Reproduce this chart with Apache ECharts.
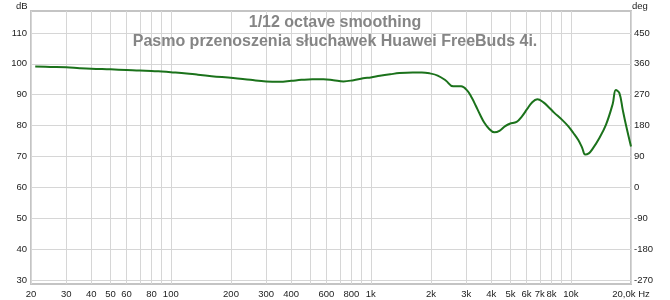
<!DOCTYPE html>
<html>
<head>
<meta charset="utf-8">
<style>
html,body{margin:0;padding:0;background:#fff;}
#chart{width:670px;height:300px;}
</style>
<script src="https://cdn.jsdelivr.net/npm/echarts@6/dist/echarts.min.js"></script>
</head>
<body>
<div id="chart"></div>
<script>
var titleLines = ['1/12 octave smoothing', 'Pasmo przenoszenia słuchawek Huawei FreeBuds 4i.'];

var freqs = [21, 25, 30, 35, 40, 50, 60, 70, 80, 90, 100, 120, 135, 160, 205, 250, 300, 350, 400, 450, 510, 580, 650, 730, 820, 915, 1000, 1110, 1250, 1390, 1620, 1800, 1970, 2160, 2370, 2580, 2830, 3030, 3200, 3350, 3520, 3690, 3900, 4150, 4400, 4700, 4950, 5360, 5700, 6040, 6400, 6800, 7300, 7800, 8250, 9000, 9700, 10300, 10900, 11400, 11800, 12300, 12800, 13900, 15000, 16200, 16800, 17500, 18200, 18900, 20000];
var spl = [99.1, 99.0, 98.9, 98.6, 98.4, 98.2, 98.0, 97.8, 97.7, 97.5, 97.3, 96.9, 96.5, 96.0, 95.4, 94.8, 94.3, 94.2, 94.5, 94.8, 95.0, 95.0, 94.7, 94.3, 94.7, 95.3, 95.6, 96.1, 96.6, 97.0, 97.2, 97.2, 96.9, 96.2, 94.6, 92.7, 92.7, 91.4, 89.0, 86.4, 83.5, 81.0, 79.0, 77.8, 78.3, 79.8, 80.6, 81.2, 83.0, 85.3, 87.5, 88.5, 87.5, 85.8, 84.2, 82.0, 79.8, 77.6, 75.3, 72.8, 70.6, 71.0, 72.3, 76.0, 80.3, 87.0, 91.5, 90.5, 85.0, 80.0, 73.2];

var gridFreqs = [20, 30, 40, 50, 60, 70, 80, 90, 100, 200, 300, 400, 500, 600, 700, 800, 900, 1000, 2000, 3000, 4000, 5000, 6000, 7000, 8000, 9000, 10000, 20000];
var labelFreqs = [20, 30, 40, 50, 60, 80, 100, 200, 300, 400, 600, 800, 1000, 2000, 3000, 4000, 5000, 6000, 7000, 8000, 10000, 20000];
var labelTexts = ['20', '30', '40', '50', '60', '80', '100', '200', '300', '400', '600', '800', '1k', '2k', '3k', '4k', '5k', '6k', '7k', '8k', '10k', '20,0k Hz'];

var dbTicks = [30, 40, 50, 60, 70, 80, 90, 100, 110];
var degTicks = [-270, -180, -90, 0, 90, 180, 270, 360, 450];

var dbMin = 28.7, dbMax = 117.1;
var degMin = (dbMin - 60) * 9, degMax = (dbMax - 60) * 9;

function lg(f) { return Math.log10(f); }
var data = freqs.map(function (f, i) { return [lg(f), spl[i]]; });

var labelMap = {};
labelFreqs.forEach(function (f, i) { labelMap[Math.round(lg(f) * 10000)] = labelTexts[i]; });

var chart = echarts.init(document.getElementById('chart'), null, { renderer: 'canvas' });
var axisFont = { fontFamily: 'Liberation Sans, Arial, sans-serif', fontSize: 9.5, color: '#222' };
var titleFont = { fontFamily: 'Liberation Sans, Arial, sans-serif', fontSize: 16, fontWeight: 'bold', color: '#858585' };

chart.setOption({
  animation: false,
  backgroundColor: '#ffffff',
  title: [
    { text: titleLines[0], left: 'center', top: 10, textStyle: titleFont },
    { text: titleLines[1], left: 'center', top: 29, textStyle: titleFont }
  ],
  graphic: [
    { type: 'text', left: 16, top: 1, style: { text: 'dB', font: '9.5px Liberation Sans, Arial, sans-serif', fill: '#222' } },
    { type: 'text', left: 632, top: 1, style: { text: 'deg', font: '9.5px Liberation Sans, Arial, sans-serif', fill: '#222' } }
  ],
  grid: { left: 31, right: 39, top: 11, bottom: 16, show: true, borderColor: '#c4c4c4', borderWidth: 2, backgroundColor: 'transparent' },
  xAxis: {
    type: 'value', min: lg(20), max: lg(20000),
    axisLine: { show: false },
    axisTick: { show: false, customValues: gridFreqs.map(lg) },
    axisLabel: Object.assign({ customValues: labelFreqs.map(lg), margin: 5,
      formatter: function (v) { return labelMap[Math.round(v * 10000)] || ''; } }, axisFont),
    splitLine: { show: true, lineStyle: { color: '#d6d6d6', width: 1 } }
  },
  yAxis: [
    {
      type: 'value', min: dbMin, max: dbMax, position: 'left',
      axisLine: { show: false },
      axisTick: { show: false, customValues: dbTicks },
      axisLabel: Object.assign({ customValues: dbTicks, margin: 4 }, axisFont),
      splitLine: { show: true, lineStyle: { color: '#d6d6d6', width: 1 } }
    },
    {
      type: 'value', min: degMin, max: degMax, position: 'right',
      axisLine: { show: false },
      axisTick: { show: false, customValues: degTicks },
      axisLabel: Object.assign({ customValues: degTicks, margin: 3 }, axisFont),
      splitLine: { show: false }
    }
  ],
  series: [{
    type: 'line', data: data, smooth: 0.4, showSymbol: false, yAxisIndex: 0,
    lineStyle: { color: '#1b721b', width: 2 }
  }]
});
</script>
</body>
</html>
